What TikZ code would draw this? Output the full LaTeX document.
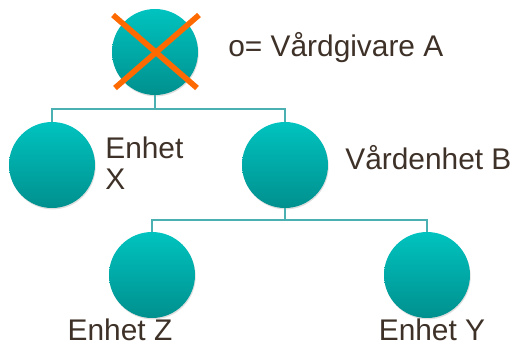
\documentclass[tikz,border=0pt]{standalone}
\usepackage{fontspec}
\setmainfont{Liberation Sans}
\usepackage{xcolor}
\usetikzlibrary{shadows}

\definecolor{tealtop}{HTML}{00C3BF}
\definecolor{tealbot}{HTML}{00908E}
\definecolor{linkcol}{HTML}{4BB0B1}
\definecolor{textcol}{HTML}{3E3128}
\definecolor{crosscol}{HTML}{FF6A00}

\tikzset{
  unit/.style={circle, minimum size=1.72cm, inner sep=0pt, draw=none,
    top color=tealtop, bottom color=tealbot,
    drop shadow={opacity=0.25, shadow xshift=0.4pt, shadow yshift=-0.8pt}},
  lbl/.style={text=textcol, font=\fontsize{17}{18}\selectfont, inner sep=0pt},
  link/.style={draw=linkcol, line width=0.9pt},
  cross/.style={draw=crosscol, line width=3.2pt}
}

\begin{document}
\begin{tikzpicture}[x=0.02cm, y=-0.02cm]
    \useasboundingbox (0,0) rectangle (515,349);

    % circles
    \node (a)[unit] at (155,52) {};
    \node (x)[unit] at (52,165) {};
    \node (b)[unit] at (285,165) {};
    \node (z)[unit] at (152,275) {};
    \node (y)[unit] at (427,275) {};

    % labels
    \node (la)[lbl, anchor=west] at (228,48) {o= Vårdgivare A};
    \node (lx)[lbl, anchor=west, align=left] at (105,163) {Enhet\\X};
    \node (lb)[lbl, anchor=west] at (345,158) {Vårdenhet B};
    \node (lz)[lbl] at (120,330) {Enhet Z};
    \node (ly)[lbl] at (432,330) {Enhet Y};

    % connectors
    \coordinate (ja) at (155,109);
    \coordinate (jb) at (285,220);
    \draw[link] (a) -- (ja);
    \draw[link] (ja) -| (x);
    \draw[link] (ja) -| (b);
    \draw[link] (b) -- (jb);
    \draw[link] (jb) -| (z);
    \draw[link] (jb) -| (y);

    % cross over the top unit
    \draw[cross] (a.center) ++(-42,-37) coordinate (c1) -- ++(84,73);
    \draw[cross] (a.center) ++(44,-37) coordinate (c2) -- ++(-84,73);
\end{tikzpicture}
\end{document}
